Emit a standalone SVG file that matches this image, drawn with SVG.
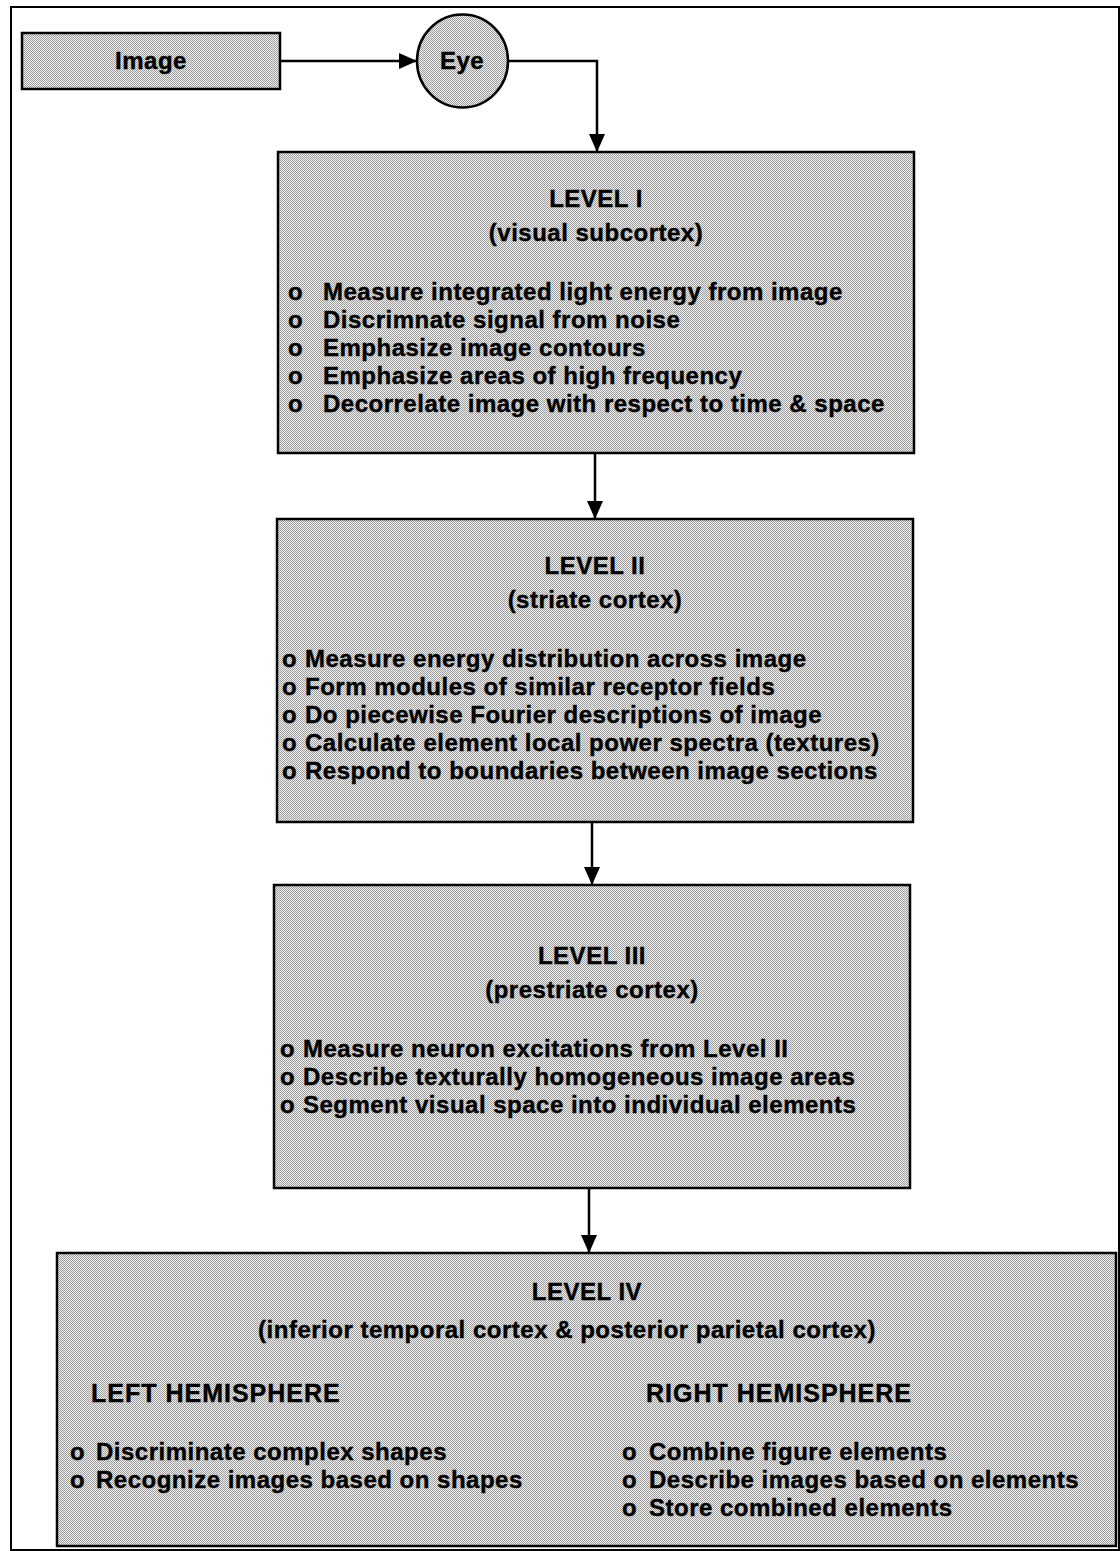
<svg xmlns="http://www.w3.org/2000/svg" width="1120" height="1551" viewBox="0 0 1120 1551">
<defs>
<pattern id="dither" width="2" height="2" patternUnits="userSpaceOnUse">
<rect width="2" height="2" fill="#ececec"/>
<rect x="0" y="0" width="1" height="1" fill="#a0a0a0"/>
<rect x="1" y="1" width="1" height="1" fill="#a0a0a0"/>
</pattern>
<marker id="arrow" markerUnits="userSpaceOnUse" markerWidth="18" markerHeight="16" refX="18" refY="8" orient="auto">
<path d="M0,0 L18,8 L0,16 Z" fill="#000"/>
</marker>
</defs>
<style>
.box{fill:url(#dither);stroke:#000;stroke-width:2.5}
.frame{fill:#fff;stroke:#000;stroke-width:2}
.conn{fill:none;stroke:#000;stroke-width:2.5}
text{font-family:"Liberation Sans",Arial,sans-serif;font-weight:bold;font-size:24px;letter-spacing:0.5px;fill:#000;stroke:#000;stroke-width:0.4}
.t{text-anchor:middle}
.h{font-size:25px;letter-spacing:1px}
</style>
<rect class="frame" x="11" y="7" width="1108" height="1543"/>
<g id="connectors">
<path class="conn" d="M280,61 L417,61" marker-end="url(#arrow)"/>
<path class="conn" d="M508,61 L597,61 L597,152" marker-end="url(#arrow)"/>
<path class="conn" d="M595,453 L595,519" marker-end="url(#arrow)"/>
<path class="conn" d="M592,822 L592,885" marker-end="url(#arrow)"/>
<path class="conn" d="M589,1188 L589,1253" marker-end="url(#arrow)"/>
</g>
<g id="image">
<rect class="box" x="22" y="33" width="258" height="56"/>
<text class="t" x="151" y="69">Image</text>
</g>
<g id="eye">
<ellipse class="box" cx="462.5" cy="61" rx="45.5" ry="46.5"/>
<text class="t" x="462" y="69">Eye</text>
</g>
<g id="level1">
<rect class="box" x="278" y="152" width="636" height="301"/>
<text class="t" x="596" y="207">LEVEL I</text>
<text class="t" x="596" y="241">(visual subcortex)</text>
<text><tspan x="288" y="300">o</tspan><tspan x="323">Measure integrated light energy from image</tspan></text>
<text><tspan x="288" y="328">o</tspan><tspan x="323">Discrimnate signal from noise</tspan></text>
<text><tspan x="288" y="356">o</tspan><tspan x="323">Emphasize image contours</tspan></text>
<text><tspan x="288" y="384">o</tspan><tspan x="323">Emphasize areas of high frequency</tspan></text>
<text><tspan x="288" y="412">o</tspan><tspan x="323">Decorrelate image with respect to time &amp; space</tspan></text>
</g>
<g id="level2">
<rect class="box" x="277" y="519" width="636" height="303"/>
<text class="t" x="595" y="574">LEVEL II</text>
<text class="t" x="595" y="608">(striate cortex)</text>
<text><tspan x="282" y="667">o</tspan><tspan x="305">Measure energy distribution across image</tspan></text>
<text><tspan x="282" y="695">o</tspan><tspan x="305">Form modules of similar receptor fields</tspan></text>
<text><tspan x="282" y="723">o</tspan><tspan x="305">Do piecewise Fourier descriptions of image</tspan></text>
<text><tspan x="282" y="751">o</tspan><tspan x="305">Calculate element local power spectra (textures)</tspan></text>
<text><tspan x="282" y="779">o</tspan><tspan x="305">Respond to boundaries between image sections</tspan></text>
</g>
<g id="level3">
<rect class="box" x="274" y="885" width="636" height="303"/>
<text class="t" x="592" y="964">LEVEL III</text>
<text class="t" x="592" y="998">(prestriate cortex)</text>
<text><tspan x="280" y="1057">o</tspan><tspan x="303">Measure neuron excitations from Level II</tspan></text>
<text><tspan x="280" y="1085">o</tspan><tspan x="303">Describe texturally homogeneous image areas</tspan></text>
<text><tspan x="280" y="1113">o</tspan><tspan x="303">Segment visual space into individual elements</tspan></text>
</g>
<g id="level4">
<rect class="box" x="57" y="1253" width="1059" height="293"/>
<text class="t" x="587" y="1300">LEVEL IV</text>
<text class="t" x="567" y="1338">(inferior temporal cortex &amp; posterior parietal cortex)</text>
<text class="h" x="91" y="1402">LEFT HEMISPHERE</text>
<text class="h" x="646" y="1402">RIGHT HEMISPHERE</text>
<text><tspan x="70" y="1460">o</tspan><tspan x="96">Discriminate complex shapes</tspan></text>
<text><tspan x="70" y="1488">o</tspan><tspan x="96">Recognize images based on shapes</tspan></text>
<text><tspan x="622" y="1460">o</tspan><tspan x="649">Combine figure elements</tspan></text>
<text><tspan x="622" y="1488">o</tspan><tspan x="649">Describe images based on elements</tspan></text>
<text><tspan x="622" y="1516">o</tspan><tspan x="649">Store combined elements</tspan></text>
</g>
</svg>
